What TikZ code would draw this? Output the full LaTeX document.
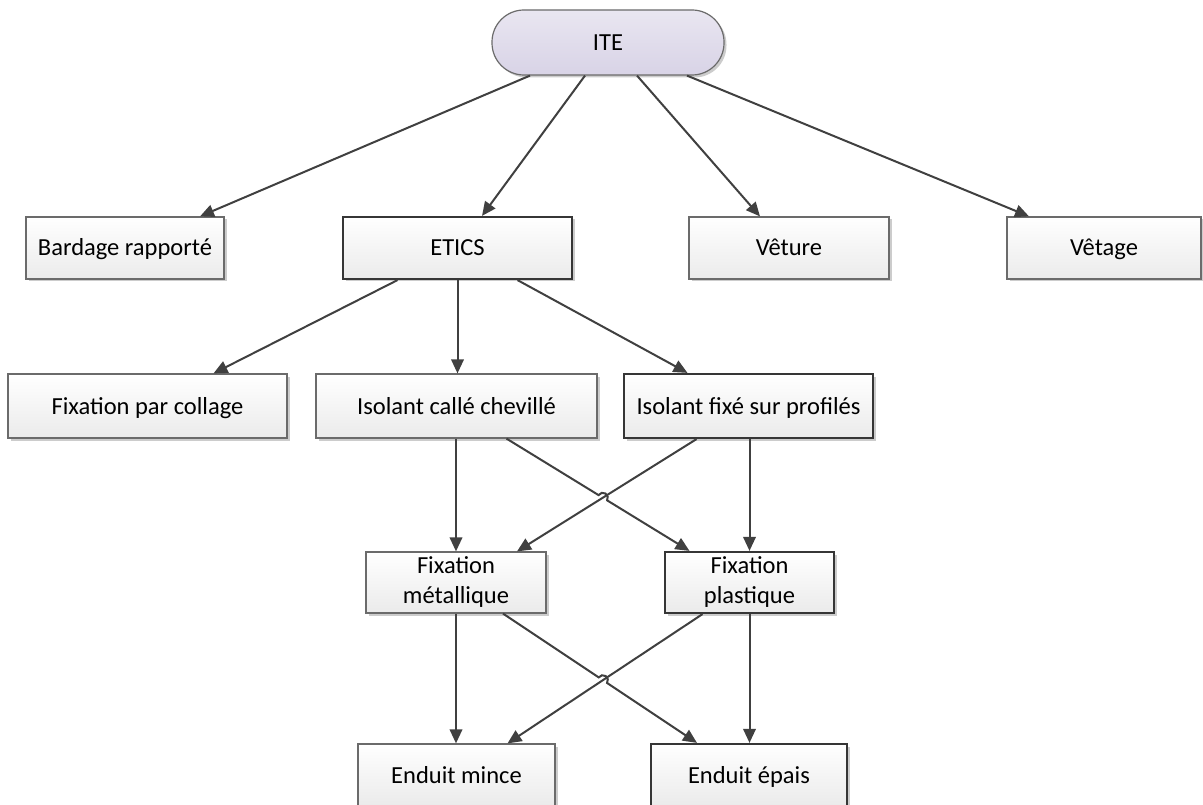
\documentclass[tikz,border=0pt]{standalone}
\usepackage{fontspec}
\setmainfont{Carlito}
\usetikzlibrary{arrows.meta,shadows,calc}

\definecolor{boxline}{HTML}{6B6B6B}
\definecolor{darkline}{HTML}{363636}
\definecolor{arrowcol}{HTML}{404040}
\definecolor{lavtop}{HTML}{E9E6F1}
\definecolor{lavbot}{HTML}{D8D3E6}

\tikzset{
  plainbox/.style={draw=boxline, line width=1.2pt, top color=white, bottom color=black!8,
    minimum height=62pt, inner sep=0pt, align=center,
    font=\fontsize{24.5}{30}\selectfont,
    drop shadow={shadow xshift=2.5pt, shadow yshift=-2.5pt, fill=black, opacity=0.2}},
  box/.style={plainbox, text height=18pt, text depth=2pt},
  thick line/.style={draw=darkline, line width=2.2pt},
  boldbox/.style={box, thick line},
  conn/.style={draw=arrowcol, line width=2pt, -{Triangle[length=14pt,width=12.5pt]}},
}

\begin{document}
\begin{tikzpicture}[x=1pt,y=1pt]
  \useasboundingbox (0,0) rectangle (1203,-805);

  % top
  \node[box, rounded corners=32pt, minimum width=232pt, minimum height=65pt,
        top color=lavtop, bottom color=lavbot] (ite) at (608,-42.5) {ITE};

  % second row
  \node[box, minimum width=198pt] (bardage) at (125,-248) {Bardage rapporté};
  \node[boldbox, minimum width=229pt] (etics) at (457.5,-248) {ETICS};
  \node[box, minimum width=200pt] (veture) at (789,-248) {Vêture};
  \node[box, minimum width=194pt] (vetage) at (1104,-248) {Vêtage};

  % third row
  \node[box, minimum width=279pt, minimum height=64pt] (collage) at (147.5,-406) {Fixation par collage};
  \node[box, minimum width=281pt, minimum height=64pt] (cheville) at (456.5,-406) {Isolant callé chevillé};
  \node[boldbox, minimum width=249pt, minimum height=64pt] (profiles) at (748.5,-406) {Isolant fixé sur profilés};

  % fixations
  \node[plainbox, minimum width=180pt, minimum height=61pt] (metal) at (456,-582.5) {Fixation\\métallique};
  \node[plainbox, thick line, minimum width=169pt, minimum height=61pt] (plast) at (749.5,-582.5) {Fixation\\plastique};

  % enduits
  \node[box, minimum width=197pt] (mince) at (456.5,-775) {Enduit mince};
  \node[boldbox, minimum width=196pt] (epais) at (749,-775) {Enduit épais};

  \draw[conn] ([xshift=-78pt]ite.south) -- ([xshift=75pt]bardage.north);
  \draw[conn] ([xshift=-23pt]ite.south) -- ([xshift=24.5pt]etics.north);
  \draw[conn] ([xshift=29pt]ite.south) -- ([xshift=-29pt]veture.north);
  \draw[conn] ([xshift=79pt]ite.south) -- ([xshift=-75pt]vetage.north);

  \draw[conn] ([xshift=-60pt]etics.south) -- ([xshift=66pt]collage.north);
  \draw[conn] (etics.south) -- (etics.south |- cheville.north);
  \draw[conn] ([xshift=60pt]etics.south) -- ([xshift=-61pt]profiles.north);

  % isolant -> fixation
  \draw[conn] (metal.north |- cheville.south) -- (metal.north);
  \draw[conn] (plast.north |- profiles.south) -- (plast.north);
  \coordinate (a1) at ([xshift=50pt]cheville.south);
  \coordinate (b1) at ([xshift=-60pt]plast.north);
  \coordinate (c1) at ([xshift=-52pt]profiles.south);
  \coordinate (d1) at ([xshift=61pt]metal.north);
  \coordinate (x1) at (intersection of a1--b1 and c1--d1);
  \draw[conn] (c1) -- (d1);
  \draw[conn] let \p1=($(b1)-(a1)$), \n1={atan2(\y1,\x1)} in
    (a1) -- ($(x1)!5pt!(a1)$) arc[start angle=\n1+180, delta angle=-180, radius=5pt] -- (b1);

  % fixation -> enduit
  \draw[conn] (metal.south) -- (metal.south |- mince.north);
  \draw[conn] (plast.south) -- (plast.south |- epais.north);
  \coordinate (a2) at ([xshift=47pt]metal.south);
  \coordinate (b2) at ([xshift=-52pt]epais.north);
  \coordinate (c2) at ([xshift=-47pt]plast.south);
  \coordinate (d2) at ([xshift=51pt]mince.north);
  \coordinate (x2) at (intersection of a2--b2 and c2--d2);
  \draw[conn] (c2) -- (d2);
  \draw[conn] let \p1=($(b2)-(a2)$), \n1={atan2(\y1,\x1)} in
    (a2) -- ($(x2)!5pt!(a2)$) arc[start angle=\n1+180, delta angle=-180, radius=5pt] -- (b2);
\end{tikzpicture}
\end{document}
